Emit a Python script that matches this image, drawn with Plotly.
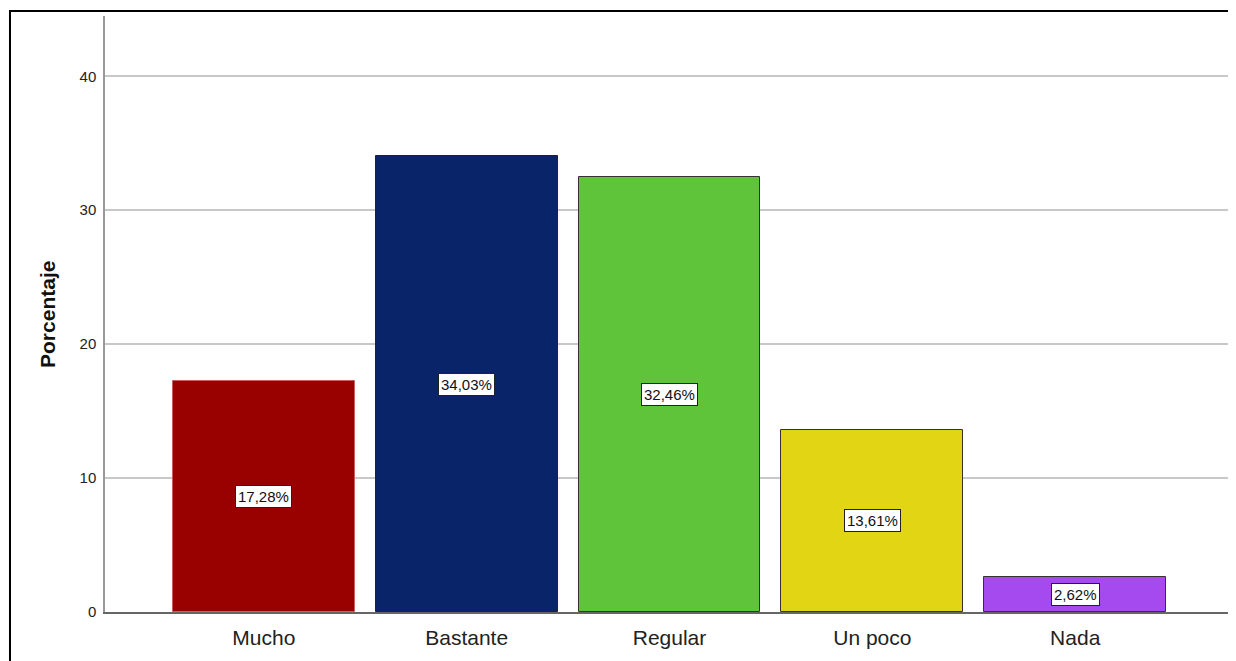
import plotly.graph_objs as go

categorias = ['Mucho', 'Bastante', 'Regular', 'Un poco', 'Nada']
porcentajes = [17.28, 34.03, 32.46, 13.61, 2.62]
colores = ['#990000', '#0A246A', '#60C43A', '#E2D513', '#A54AEE']
bordes = ['#C86060', '#222222', '#333333', '#333333', '#333333']
y_ticks = [0, 10, 20, 30, 40]

fuente = 'Arial, Liberation Sans, sans-serif'

fig = go.Figure()
fig.add_trace(go.Bar(
    x=categorias,
    y=porcentajes,
    width=0.897,
    marker=dict(color=colores, line=dict(color=bordes, width=1)),
    hoverinfo='skip',
))

# etiquetas de porcentaje en el centro de cada barra
for cat, val in zip(categorias, porcentajes):
    fig.add_annotation(
        x=cat, y=val / 2, xref='x', yref='y',
        text=f'{val:.2f}'.replace('.', ',') + '%',
        showarrow=False,
        font=dict(family=fuente, size=15, color='#111111'),
        bgcolor='white', bordercolor='#222222', borderwidth=1, borderpad=2,
    )

# título del eje Y
fig.add_annotation(
    x=-0.0515, y=0.5, xref='paper', yref='paper',
    xanchor='center', yanchor='middle',
    text='<b>Porcentaje</b>', textangle=-90, showarrow=False,
    font=dict(family=fuente, size=21, color='#111111'),
)

# marco exterior
fig.add_shape(
    type='rect', xref='paper', yref='paper',
    x0=-0.0843, x1=1.02, y0=-0.2, y1=1.0084,
    line=dict(color='black', width=2), layer='above',
)

# la página tiene 8px de margen, así que la figura es 8px más pequeña
fig.update_layout(
    width=1228, height=653,
    margin=dict(l=97, r=4, t=8, b=49),
    paper_bgcolor='white', plot_bgcolor='white',
    showlegend=False,
    bargap=0,
    xaxis=dict(
        range=[-0.783, 4.773],
        showline=True, linecolor='#666666', linewidth=1.5,
        showgrid=False, ticks='', ticklabelstandoff=6,
        tickfont=dict(family=fuente, size=21, color='#222222'),
    ),
    yaxis=dict(
        range=[0, 44.5],
        tickvals=y_ticks,
        showline=True, linecolor='#999999', linewidth=1.5,
        showgrid=True, gridcolor='#C8C8C8', gridwidth=1.5,
        zeroline=False, ticks='', ticklabelstandoff=4,
        tickfont=dict(family=fuente, size=15, color='#222222'),
    ),
)

fig.write_html('out.html')
